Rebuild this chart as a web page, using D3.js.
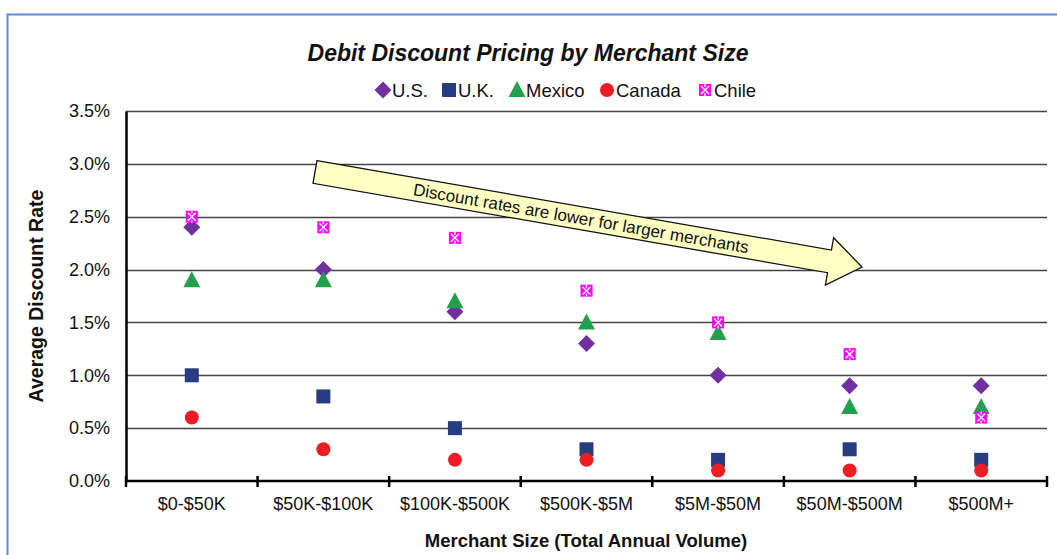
<!DOCTYPE html>
<html><head><meta charset="utf-8">
<script src="https://cdn.jsdelivr.net/npm/d3@7"></script>
<style>body{margin:0;background:#fff}svg{display:block;font-family:"Liberation Sans",Arial,sans-serif}</style>
</head><body>
<script>
const categories = ["$0-$50K","$50K-$100K","$100K-$500K","$500K-$5M","$5M-$50M","$50M-$500M","$500M+"];
const usValues     = [2.4, 2.0, 1.6, 1.3, 1.0, 0.9, 0.9];
const ukValues     = [1.0, 0.8, 0.5, 0.3, 0.2, 0.3, 0.2];
const mexicoValues = [1.9, 1.9, 1.7, 1.5, 1.4, 0.7, 0.7];
const canadaValues = [0.6, 0.3, 0.2, 0.2, 0.1, 0.1, 0.1];
const chileValues  = [2.5, 2.4, 2.3, 1.8, 1.5, 1.2, 0.6];
const yTicks = [0, 0.5, 1.0, 1.5, 2.0, 2.5, 3.0, 3.5];
const seriesNames = ["U.S.","U.K.","Mexico","Canada","Chile"];

const series = [
  {name: seriesNames[0], values: usValues, color: "#7030A0", shape: "diamond"},
  {name: seriesNames[1], values: ukValues, color: "#283C82", shape: "square"},
  {name: seriesNames[2], values: mexicoValues, color: "#23A04C", shape: "triangle"},
  {name: seriesNames[3], values: canadaValues, color: "#EE1D25", shape: "circle"},
  {name: seriesNames[4], values: chileValues, color: "#FF00FF", shape: "chile"}
];

const W = 1057, H = 555;
const m = {left: 126, right: 1047, top: 111, bottom: 481};
const svg = d3.select("body").append("svg").attr("width", W).attr("height", H);

// outer frame
svg.append("rect").attr("x", 7.5).attr("y", 14.5).attr("width", 1100).attr("height", 600)
  .attr("fill", "none").attr("stroke", "#5B8BD0").attr("stroke-width", 2);

const x = d3.scaleBand().domain(categories).range([m.left, m.right]).padding(0);
const y = d3.scaleLinear().domain([0, 3.5]).range([m.bottom, m.top]);

// gridlines
svg.append("g").selectAll("line").data(yTicks.filter(d => d > 0)).join("line")
  .attr("x1", m.left).attr("x2", m.right)
  .attr("y1", d => Math.round(y(d)) + 0.5).attr("y2", d => Math.round(y(d)) + 0.5)
  .attr("stroke", "#444").attr("stroke-width", 1.3);

// y axis
const yAxis = d3.axisLeft(y).tickValues(yTicks).tickSize(0).tickPadding(16)
  .tickFormat(d => d3.format(".1f")(d) + "%");
const gy = svg.append("g").attr("transform", `translate(${m.left},0)`).call(yAxis);
gy.select(".domain").attr("stroke", "#000").attr("stroke-width", 2.5);
gy.selectAll("text").attr("font-size", 18).attr("fill", "#111").attr("font-family", "Liberation Sans, Arial, sans-serif");

// x axis
const gx = svg.append("g").attr("transform", `translate(0,${m.bottom})`);
gx.append("line").attr("x1", m.left).attr("x2", m.right).attr("y1", 0).attr("y2", 0)
  .attr("stroke", "#000").attr("stroke-width", 2.5);
const bounds = categories.map(c => x(c)).concat([x(categories[categories.length-1]) + x.bandwidth()]);
gx.selectAll("line.tk").data(bounds).join("line").attr("class", "tk")
  .attr("x1", d => d).attr("x2", d => d).attr("y1", -5).attr("y2", 6)
  .attr("stroke", "#000").attr("stroke-width", 2.5);
gx.selectAll("text").data(categories).join("text")
  .attr("x", d => x(d) + x.bandwidth() / 2).attr("y", 29)
  .attr("text-anchor", "middle").attr("font-size", 18).attr("fill", "#111").text(d => d);

// arrow annotation
const tail = [315, 172], tip = [862, 267];
const ang = Math.atan2(tip[1] - tail[1], tip[0] - tail[0]);
const L = Math.hypot(tip[0] - tail[0], tip[1] - tail[1]);
const sh = 11.5, hh = 24, hb = L - 33;
const arrowG = svg.append("g").attr("transform", `translate(${tail[0]},${tail[1]}) rotate(${ang * 180 / Math.PI})`);
arrowG.append("path")
  .attr("d", `M0,${-sh} L${hb},${-sh} L${hb},${-hh} L${L},0 L${hb},${hh} L${hb},${sh} L0,${sh} Z`)
  .attr("fill", "#FFFFC4").attr("stroke", "#111").attr("stroke-width", 1.3).attr("stroke-linejoin", "miter");
arrowG.append("text").attr("x", 270).attr("y", 6).attr("text-anchor", "middle")
  .attr("font-size", 17).attr("fill", "#111").text("Discount rates are lower for larger merchants");

// markers
function drawMarker(g, shape, color, cx, cy) {
  if (shape === "diamond") {
    g.append("path").attr("d", `M${cx},${cy-8.5} L${cx+8.5},${cy} L${cx},${cy+8.5} L${cx-8.5},${cy} Z`).attr("fill", color);
  } else if (shape === "square") {
    g.append("rect").attr("x", cx - 7).attr("y", cy - 7).attr("width", 14).attr("height", 14).attr("fill", color);
  } else if (shape === "triangle") {
    g.append("path").attr("d", `M${cx},${cy-9} L${cx+8.5},${cy+7} L${cx-8.5},${cy+7} Z`).attr("fill", color);
  } else if (shape === "circle") {
    g.append("circle").attr("cx", cx).attr("cy", cy).attr("r", 7).attr("fill", color);
  } else if (shape === "chile") {
    g.append("rect").attr("x", cx - 6).attr("y", cy - 6).attr("width", 12).attr("height", 12).attr("fill", color);
    g.append("path").attr("d", `M${cx-4},${cy-4} L${cx+4},${cy+4} M${cx+4},${cy-4} L${cx-4},${cy+4} M${cx},${cy-6} L${cx},${cy-3} M${cx},${cy+3} L${cx},${cy+6}`)
      .attr("stroke", "#fff").attr("stroke-width", 1.4);
  }
}

const pts = svg.append("g");
series.forEach(s => {
  s.values.forEach((v, i) => {
    drawMarker(pts, s.shape, s.color, x(categories[i]) + x.bandwidth() / 2, y(v));
  });
});

// title
svg.append("text").attr("x", 528).attr("y", 61).attr("text-anchor", "middle")
  .attr("font-size", 23).attr("font-weight", "bold").attr("font-style", "italic").attr("fill", "#111")
  .text("Debit Discount Pricing by Merchant Size");

// legend
const legendX = [383, 449, 517, 607, 705];
const lg = svg.append("g");
series.forEach((s, i) => {
  drawMarker(lg, s.shape, s.color, legendX[i], 90);
  lg.append("text").attr("x", legendX[i] + 9).attr("y", 97).attr("font-size", 18.5).attr("fill", "#111").text(s.name);
});

// axis titles
svg.append("text").attr("transform", "translate(43,296) rotate(-90)").attr("text-anchor", "middle")
  .attr("font-size", 19.5).attr("font-weight", "bold").attr("fill", "#111").text("Average Discount Rate");
svg.append("text").attr("x", 586).attr("y", 547).attr("text-anchor", "middle")
  .attr("font-size", 18.5).attr("font-weight", "bold").attr("fill", "#111").text("Merchant Size (Total Annual Volume)");
</script>
</body></html>
